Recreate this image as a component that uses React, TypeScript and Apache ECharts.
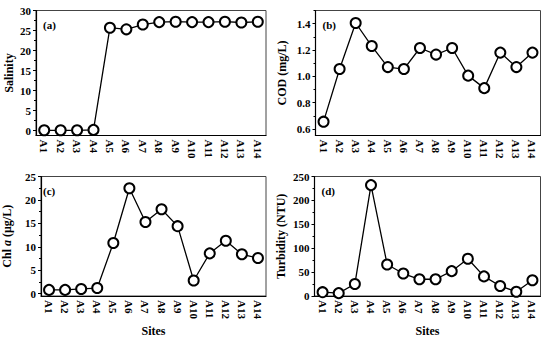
import React, { useEffect, useRef } from "react";
import * as echarts from "echarts";

const sites = ["A1","A2","A3","A4","A5","A6","A7","A8","A9","A10","A11","A12","A13","A14"];
const salinity = [0.1, 0.1, 0.1, 0.2, 25.7, 25.3, 26.5, 27.1, 27.2, 27.1, 27.1, 27.2, 27.0, 27.2];
const cod = [0.655, 1.055, 1.405, 1.23, 1.07, 1.055, 1.215, 1.165, 1.215, 1.005, 0.91, 1.18, 1.07, 1.18];
const chla = [0.8, 0.8, 1.0, 1.2, 10.8, 22.5, 15.3, 18.0, 14.4, 2.8, 8.6, 11.3, 8.4, 7.6];
const turbidity = [8, 6, 25, 232, 66, 47, 35, 35, 52, 78, 41, 21, 9, 33];

const salTicks = [0, 5, 10, 15, 20, 25, 30];
const salMinor = [2.5, 7.5, 12.5, 17.5, 22.5, 27.5];
const codTicks = [0.6, 0.8, 1.0, 1.2, 1.4];
const codMinor = [0.7, 0.9, 1.1, 1.3, 1.5];
const chlTicks = [0, 5, 10, 15, 20, 25];
const chlMinor = [2.5, 7.5, 12.5, 17.5, 22.5];
const turTicks = [0, 50, 100, 150, 200, 250];
const turMinor = [25, 75, 125, 175, 225];

const FONT = "Liberation Serif";

type Panel = {
  label: string;
  name: string;
  data: number[];
  min: number;
  max: number;
  ticks: number[];
  minor: number[];
  decimals: number;
  grid: { left: number; top: number; width: number; height: number };
  sites: boolean;
};

const panels: Panel[] = [
  { label: "(a)", name: "{n|Salinity}", data: salinity, min: -1.2, max: 30, ticks: salTicks, minor: salMinor, decimals: 0,
    grid: { left: 36, top: 10.5, width: 230, height: 125 }, sites: false },
  { label: "(b)", name: "{n|COD (mg/L)}", data: cod, min: 0.55, max: 1.5, ticks: codTicks, minor: codMinor, decimals: 1,
    grid: { left: 315.5, top: 10.5, width: 225, height: 125 }, sites: false },
  { label: "(c)", name: "{n|Chl }{i|a}{n| (μg/L)}", data: chla, min: -0.5, max: 25, ticks: chlTicks, minor: chlMinor, decimals: 0,
    grid: { left: 36, top: 176.5, width: 230, height: 125.5 }, sites: true },
  { label: "(d)", name: "{n|Turbidity (NTU)}", data: turbidity, min: 0, max: 250, ticks: turTicks, minor: turMinor, decimals: 0,
    grid: { left: 314.5, top: 176.5, width: 226, height: 125.5 }, sites: true },
];

export default function App() {
  const ref = useRef<HTMLDivElement>(null);
  useEffect(() => {
    if (!ref.current) return;
    const chart = echarts.init(ref.current, null, { renderer: "svg" });
    const grids: any[] = [];
    const xAxes: any[] = [];
    const yAxes: any[] = [];
    const series: any[] = [];
    const graphics: any[] = [];
    panels.forEach((p, i) => {
      grids.push({ ...p.grid, show: true, borderColor: "#444", borderWidth: 1, backgroundColor: "transparent" });
      xAxes.push({
        type: "category",
        gridIndex: i,
        data: sites,
        boundaryGap: true,
        axisLine: { onZero: false, lineStyle: { color: "#000", width: 1.2 } },
        axisTick: { alignWithLabel: true, length: 3, lineStyle: { color: "#000" } },
        axisLabel: { rotate: -90, color: "#000", fontFamily: FONT, fontWeight: "bold", fontSize: 11, margin: 4, interval: 0 },
        name: p.sites ? "Sites" : "",
        nameLocation: "middle",
        nameGap: 29,
        nameTextStyle: { color: "#000", fontFamily: FONT, fontWeight: "bold", fontSize: 12 },
        splitLine: { show: false },
      });
      yAxes.push({
        type: "value",
        gridIndex: i,
        min: p.min,
        max: p.max,
        axisLine: { show: true, onZero: false, lineStyle: { color: "#000", width: 1.2 } },
        axisTick: { show: true, length: 3, customValues: p.ticks, lineStyle: { color: "#000" } },
        axisLabel: {
          customValues: p.ticks,
          color: "#000", fontFamily: FONT, fontWeight: "bold", fontSize: 11, margin: 5,
          formatter: (v: number) => v.toFixed(p.decimals),
        },
        splitLine: { show: false },
        name: p.name,
        nameLocation: "middle",
        nameGap: p.label === "(a)" ? 21 : 28,
        nameTextStyle: {
          color: "#000", fontFamily: FONT, fontWeight: "bold", fontSize: 12,
          rich: {
            n: { fontFamily: FONT, fontWeight: "bold", fontSize: 12, color: "#000" },
            i: { fontFamily: FONT, fontWeight: "bold", fontStyle: "italic", fontSize: 12, color: "#000" },
          },
        },
      });
      yAxes.push({
        type: "value",
        gridIndex: i,
        min: p.min,
        max: p.max,
        position: "left",
        axisLine: { show: false, onZero: false },
        axisTick: { show: true, length: 2, customValues: p.minor, lineStyle: { color: "#000" } },
        axisLabel: { show: false },
        splitLine: { show: false },
      });
      series.push({
        type: "line",
        xAxisIndex: i,
        yAxisIndex: i * 2,
        data: p.data,
        symbol: "circle",
        symbolSize: 10,
        lineStyle: { color: "#000", width: 1.3 },
        itemStyle: { color: "#fff", borderColor: "#000", borderWidth: 2 },
      });
      graphics.push({
        type: "text",
        left: p.grid.left + 7,
        top: p.grid.top + 9,
        style: { text: p.label, fill: "#000", font: `bold 11px "${FONT}"` },
      });
    });
    chart.setOption({
      animation: false,
      backgroundColor: "#fff",
      grid: grids,
      xAxis: xAxes,
      yAxis: yAxes,
      series,
      graphic: graphics,
    });
    return () => chart.dispose();
  }, []);
  return <div ref={ref} style={{ position: "fixed", left: 0, top: 0, width: 550, height: 338 }} />;
}
